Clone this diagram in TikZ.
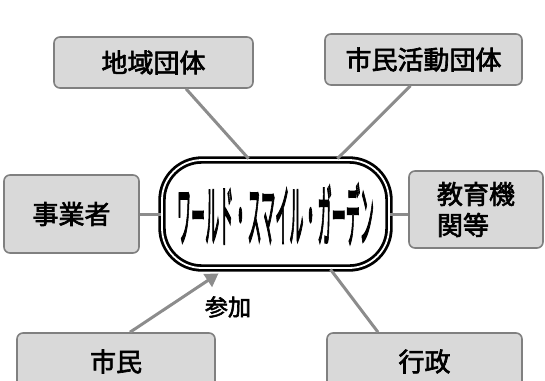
\documentclass[tikz,border=0pt]{standalone}
\usepackage{fontspec}
\usepackage{graphicx}
\newfontfamily\cjkm{Noto Sans CJK JP}[FakeBold=2.5]
\newfontfamily\cjkt{Noto Sans CJK JP}[FakeBold=3.5]
\usetikzlibrary{arrows.meta}
\definecolor{boxfill}{HTML}{D9D9D9}
\definecolor{boxline}{HTML}{808080}
\definecolor{conn}{HTML}{8C8C8C}
\tikzset{
  gbox/.style={draw=boxline, line width=1.6pt, fill=boxfill, rounded corners=6pt, inner sep=0pt,
    font=\cjkm\fontsize{26}{31}\selectfont, align=left},
  link/.style={draw=conn, line width=3pt},
}
\begin{document}
\begin{tikzpicture}[x=1pt,y=-1pt]
\useasboundingbox (0,0) rectangle (545,380);
\clip (0,0) rectangle (545,380);
\node[gbox, minimum width=199pt, minimum height=51pt] (dt) at (153.5,62.5) {地域団体};
\node[gbox, minimum width=197pt, minimum height=51pt] (sm) at (423.5,59.5) {市民活動団体};
\node[gbox, minimum width=135pt, minimum height=78pt] (jg) at (71.5,214) {事業者};
\node[gbox, minimum width=134pt, minimum height=77pt] (kk) at (476,209.5) {教育機\\関等};
\node[gbox, minimum width=198pt, minimum height=57pt] (sim) at (116,361.5) {市民};
\node[gbox, minimum width=195pt, minimum height=57pt] (gs) at (424.5,361.5) {行政};
\node[draw=black, line width=2.8pt, double=white, double distance=1.8pt, rounded corners=40pt,
  minimum width=227pt, minimum height=108pt, inner sep=0pt] (wsg) at (275.5,214)
  {\resizebox{197pt}{58pt}{\cjkt ワールド・スマイル・ガーデン}};
\node[font=\cjkm\fontsize{23}{23}\selectfont, inner sep=0pt] (lbl) at (228,307) {参加};
\draw[link] ([xshift=32.5pt]dt.south) -- ([xshift=-27pt]wsg.north);
\draw[link] ([xshift=-13pt]sm.south) -- ([xshift=62pt]wsg.north);
\draw[link] (jg.east) -- (wsg.west);
\draw[link] (wsg.east) -- (wsg.east -| kk.west);
\draw[link] ([xshift=55pt]wsg.south) -- ([xshift=-46.5pt]gs.north);
\coordinate (tip) at ([xshift=-57pt,yshift=-4pt]wsg.south);
\draw[link, -{Triangle[length=13pt,width=15pt]}, fill=conn] ([xshift=14pt]sim.north) -- (tip);
\end{tikzpicture}
\end{document}
